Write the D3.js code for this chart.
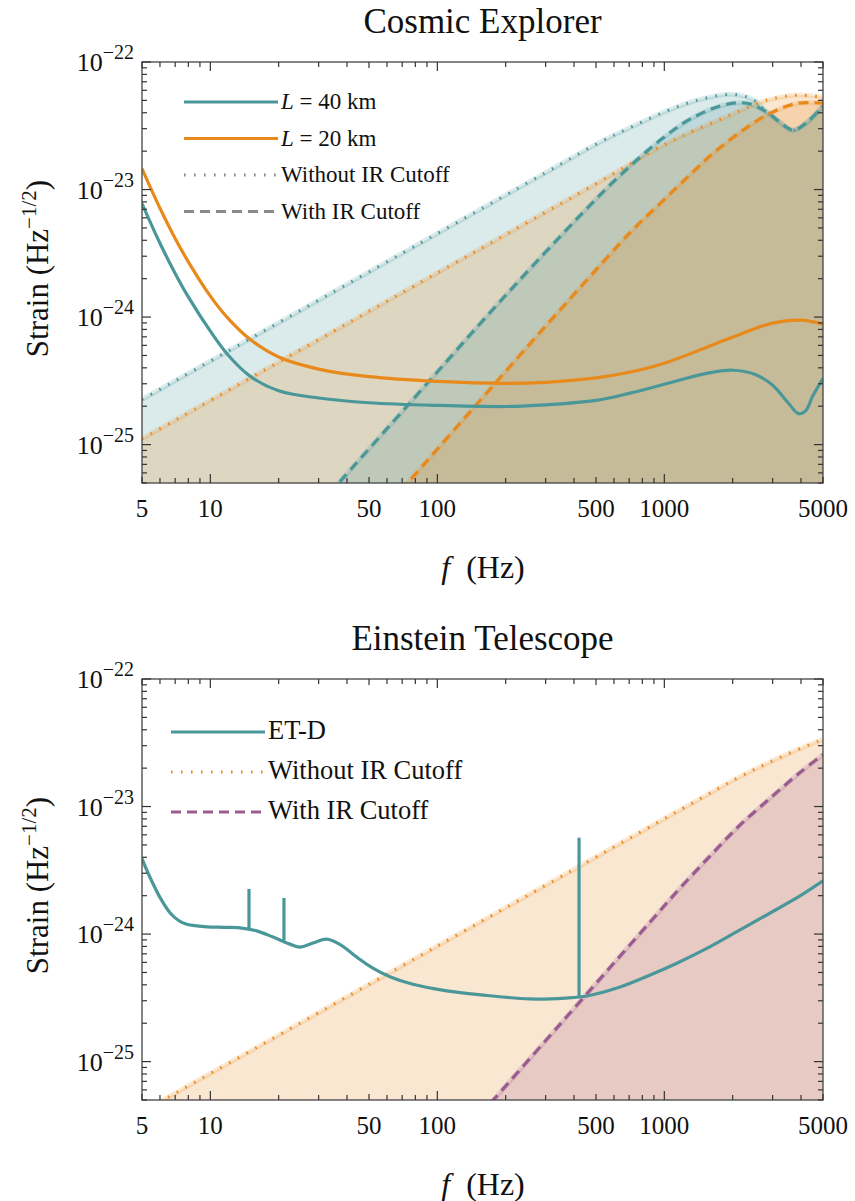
<!DOCTYPE html>
<html>
<head>
<meta charset="utf-8">
<script src="https://cdn.jsdelivr.net/npm/d3@7"></script>
<style>
  body { margin: 0; background: #fff; }
  text { font-family: "Liberation Serif", "DejaVu Serif", serif; fill: #111; }
</style>
</head>
<body>
<svg id="chart" width="855" height="1201"></svg>
<script>
// ---- Cosmic Explorer (top panel) ----
var ce40Freq  = [5, 6, 7, 8, 10, 12, 15, 20, 30, 50, 100, 200, 300, 500, 700, 1000, 1500, 2000, 2500, 3000, 3500, 3900, 4200, 4500, 5000];
var ce40Noise = [7.76e-24, 3.79e-24, 2.20e-24, 1.44e-24, 7.76e-25, 5.02e-25, 3.43e-25, 2.64e-25, 2.32e-25, 2.13e-25, 2.03e-25, 1.99e-25, 2.05e-25, 2.22e-25, 2.52e-25, 2.97e-25, 3.59e-25, 3.83e-25, 3.56e-25, 2.92e-25, 2.14e-25, 1.75e-25, 1.85e-25, 2.39e-25, 3.31e-25];

var ce20Freq  = [5, 6, 7, 8, 10, 12, 15, 20, 30, 50, 100, 200, 300, 500, 700, 1000, 1500, 2000, 3000, 4000, 5000];
var ce20Noise = [1.46e-23, 7.14e-24, 4.14e-24, 2.71e-24, 1.46e-24, 9.72e-25, 6.66e-25, 4.86e-25, 3.91e-25, 3.41e-25, 3.13e-25, 3.02e-25, 3.08e-25, 3.34e-25, 3.69e-25, 4.35e-25, 5.70e-25, 6.97e-25, 8.97e-25, 9.47e-25, 8.81e-25];

var ce40NoCutFreq = [5, 100, 300, 520, 727, 1027, 1436, 2007, 2458, 2833, 3233, 3688, 4251, 5000];
var ce40NoCut     = [2.26e-25, 4.52e-24, 1.356e-23, 2.35e-23, 3.13e-23, 4.14e-23, 5.08e-23, 5.57e-23, 5.08e-23, 4.04e-23, 3.37e-23, 2.92e-23, 3.37e-23, 4.51e-23];

var ce40CutFreq = [30, 72, 195, 425, 638, 957, 1298, 1813, 2313, 2833, 3233, 3688, 4251, 5000];
var ce40Cut     = [3.33e-26, 1.92e-25, 1.41e-24, 6.24e-24, 1.29e-23, 2.43e-23, 3.56e-23, 4.58e-23, 4.75e-23, 4.04e-23, 3.37e-23, 2.92e-23, 3.37e-23, 4.51e-23];

var ce20NoCutFreq = [5, 100, 500, 987, 1365, 1947, 2639, 3233, 3960, 5000];
var ce20NoCut     = [1.11e-25, 2.22e-24, 1.11e-23, 2.22e-23, 2.92e-23, 3.83e-23, 4.84e-23, 5.30e-23, 5.50e-23, 5.30e-23];

var ce20CutFreq = [50, 72.8, 143.6, 384, 727, 957, 1259, 1638, 2221, 2920, 3870, 5000];
var ce20Cut     = [2.28e-26, 4.84e-26, 1.92e-25, 1.39e-24, 4.84e-24, 7.76e-24, 1.24e-23, 1.92e-23, 2.92e-23, 3.96e-23, 4.75e-23, 4.75e-23];

// ---- Einstein Telescope (bottom panel) ----
var etFreq  = [5, 5.42, 6, 6.64, 7, 7.35, 7.81, 8.36, 9.67, 11.4, 13.5, 16, 18.9, 22.4, 24.8, 28.3, 32.5, 37.2, 44.2, 52, 61.8, 78, 110, 155, 255, 368, 457, 623, 841, 1135, 1531, 2135, 2980, 3960, 5000];
var etNoise = [3.90e-24, 2.79e-24, 1.94e-24, 1.47e-24, 1.34e-24, 1.26e-24, 1.20e-24, 1.17e-24, 1.14e-24, 1.13e-24, 1.12e-24, 1.06e-24, 9.47e-25, 8.34e-25, 7.90e-25, 8.50e-25, 9.13e-25, 8.31e-25, 6.59e-25, 5.41e-25, 4.63e-25, 4.04e-25, 3.59e-25, 3.34e-25, 3.10e-25, 3.15e-25, 3.27e-25, 3.79e-25, 4.67e-25, 5.91e-25, 7.69e-25, 1.07e-24, 1.49e-24, 1.99e-24, 2.61e-24];

// narrow resonance lines on the ET-D curve
var etSpikeFreq = [14.8, 21.1, 421];
var etSpikeBase = [1.11e-24, 8.9e-25, 3.22e-25];
var etSpikeTop  = [2.26e-24, 1.92e-24, 5.70e-24];

var etNoCutFreq = [5, 100, 1336, 2135, 3233, 5000];
var etNoCut     = [4.03e-26, 8.06e-25, 1.07e-23, 1.70e-23, 2.43e-23, 3.38e-23];

var etCutFreq = [139.3, 347, 864.6, 1172, 1589, 2135, 2920, 3960, 5000];
var etCut     = [3.10e-26, 1.96e-25, 1.24e-24, 2.29e-24, 4.09e-24, 7.05e-24, 1.16e-23, 1.85e-23, 2.55e-23];

var xTickLabels = [5, 10, 50, 100, 500, 1000, 5000];
var yTickExps = [-22, -23, -24, -25];

var teal = "#4a979a", orange = "#e8891b", purple = "#9a5b90", grey = "#8a8a8a";

var svg = d3.select("#chart");
var x = d3.scaleLog().domain([5, 5000]).range([142, 823]);

function drawPanel(p) {
	var y = d3.scaleLog().domain([5e-26, 1e-22]).range([p.bottom, p.top]);
	var g = svg.append("g");

	g.append("clipPath").attr("id", p.id)
		.append("rect")
		.attr("x", 142).attr("y", p.top)
		.attr("width", 823 - 142).attr("height", p.bottom - p.top);

	var plot = g.append("g").attr("clip-path", "url(#" + p.id + ")");

	var line = d3.line()
		.x(d => x(d[0]))
		.y(d => y(d[1]))
		.curve(d3.curveCatmullRom.alpha(0.5));

	var area = d3.area()
		.x(d => x(d[0]))
		.y0(p.bottom + 5)
		.y1(d => y(d[1]))
		.curve(d3.curveCatmullRom.alpha(0.5));

	p.fills.forEach(function(s) {
		plot.append("path")
			.datum(d3.zip(s.f, s.h))
			.attr("d", area)
			.attr("fill", s.color)
			.attr("fill-opacity", 0.2);
	});

	// soft band behind the cutoff curves
	p.fills.forEach(function(s) {
		plot.append("path")
			.datum(d3.zip(s.f, s.h))
			.attr("d", line)
			.attr("fill", "none")
			.attr("stroke", s.color)
			.attr("stroke-opacity", 0.18)
			.attr("stroke-width", 5);
	});

	p.fills.forEach(function(s) {
		plot.append("path")
			.datum(d3.zip(s.f, s.h))
			.attr("d", line)
			.attr("fill", "none")
			.attr("stroke", s.color)
			.attr("stroke-width", s.dash === "dot" ? 3 : 3.2)
			.attr("stroke-dasharray", s.dash === "dot" ? "1.6,8.4" : "10,6");
	});

	p.lines.forEach(function(s) {
		plot.append("path")
			.datum(d3.zip(s.f, s.h))
			.attr("d", line)
			.attr("fill", "none")
			.attr("stroke", s.color)
			.attr("stroke-width", 3.2);
	});

	if (p.spikes) {
		p.spikes.f.forEach(function(f, i) {
			plot.append("path")
				.datum([[f, p.spikes.base[i]], [f, p.spikes.top[i]]])
				.attr("d", d3.line().x(d => x(d[0])).y(d => y(d[1])))
				.attr("stroke", p.spikes.color)
				.attr("stroke-width", 3.2);
		});
	}

	// frame
	g.append("rect")
		.attr("x", 142).attr("y", p.top)
		.attr("width", 823 - 142).attr("height", p.bottom - p.top)
		.attr("fill", "none")
		.attr("stroke", "#444")
		.attr("stroke-width", 1.3);

	// x ticks (bottom and top)
	var xMinor = [];
	[1, 10, 100, 1000].forEach(function(dec) {
		for (var k = 1; k <= 9; k++) {
			var v = k * dec;
			if (v >= 5 && v <= 5000) xMinor.push(v);
		}
	});
	xMinor.forEach(function(v) {
		var len = [10, 100, 1000].indexOf(v) >= 0 ? 9 : (xTickLabels.indexOf(v) >= 0 ? 6 : 5);
		g.append("line").attr("x1", x(v)).attr("x2", x(v))
			.attr("y1", p.bottom).attr("y2", p.bottom - len)
			.attr("stroke", "#333").attr("stroke-width", 1.2);
		g.append("line").attr("x1", x(v)).attr("x2", x(v))
			.attr("y1", p.top).attr("y2", p.top + len)
			.attr("stroke", "#333").attr("stroke-width", 1.2);
	});

	xTickLabels.forEach(function(v) {
		g.append("text")
			.attr("x", x(v)).attr("y", p.bottom + 34)
			.attr("text-anchor", "middle")
			.style("font-size", "25px")
			.text(v);
	});

	// y ticks (left and right)
	yTickExps.concat([-26]).forEach(function(e) {
		for (var k = 1; k <= 9; k++) {
			var v = k * Math.pow(10, e);
			if (v < 5e-26 * 0.999 || v > 1e-22 * 1.001) continue;
			var len = k === 1 ? 9 : 5;
			g.append("line").attr("x1", 142).attr("x2", 142 + len)
				.attr("y1", y(v)).attr("y2", y(v))
				.attr("stroke", "#333").attr("stroke-width", 1.2);
			g.append("line").attr("x1", 823).attr("x2", 823 - len)
				.attr("y1", y(v)).attr("y2", y(v))
				.attr("stroke", "#333").attr("stroke-width", 1.2);
		}
	});

	yTickExps.forEach(function(e) {
		var t = g.append("text")
			.attr("x", 134).attr("y", y(Math.pow(10, e)) + 9)
			.attr("text-anchor", "end")
			.style("font-size", "26px");
		t.append("tspan").text("10");
		t.append("tspan").attr("dy", -12).style("font-size", "20px").text("\u2212" + (-e));
	});

	// titles
	g.append("text")
		.attr("x", 482.5).attr("y", p.top - 29)
		.attr("text-anchor", "middle")
		.style("font-size", "35px")
		.text(p.title);

	var xl = g.append("text")
		.attr("x", 483).attr("y", p.bottom + 95)
		.attr("text-anchor", "middle")
		.style("font-size", "32px");
	xl.append("tspan").style("font-style", "italic").text("f");
	xl.append("tspan").text("\u2002(Hz)");

	var yl = g.append("text")
		.attr("transform", "translate(48," + ((p.top + p.bottom) / 2 - 4) + ") rotate(-90)")
		.attr("text-anchor", "middle")
		.style("font-size", "31px");
	yl.append("tspan").text("Strain (Hz");
	yl.append("tspan").attr("dy", -12).style("font-size", "21px").text("\u22121/2");
	yl.append("tspan").attr("dy", 12).text(")");

	// legend
	p.legend.forEach(function(item, i) {
		var ly = p.legendY + i * p.legendStep;
		g.append("line")
			.attr("x1", p.legendX).attr("x2", p.legendX + 94)
			.attr("y1", ly).attr("y2", ly)
			.attr("stroke", item.color)
			.attr("stroke-width", 3.2)
			.attr("stroke-dasharray", item.dash === "dot" ? "1.6,8.4" : item.dash === "dash" ? "10,6" : null);
		var t = g.append("text")
			.attr("x", p.legendX + 97).attr("y", ly + 7)
			.style("font-size", p.legendFont + "px");
		if (item.italic) {
			t.append("tspan").style("font-style", "italic").text(item.italic);
		}
		t.append("tspan").text(item.label);
	});
}

drawPanel({
	id: "clipCE", title: "Cosmic Explorer", top: 62, bottom: 483,
	fills: [
		{f: ce40NoCutFreq, h: ce40NoCut, color: teal, dash: "dot"},
		{f: ce20NoCutFreq, h: ce20NoCut, color: orange, dash: "dot"},
		{f: ce40CutFreq, h: ce40Cut, color: teal, dash: "dash"},
		{f: ce20CutFreq, h: ce20Cut, color: orange, dash: "dash"}
	],
	lines: [
		{f: ce20Freq, h: ce20Noise, color: orange},
		{f: ce40Freq, h: ce40Noise, color: teal}
	],
	legendX: 184, legendY: 102, legendStep: 36.5, legendFont: 23,
	legend: [
		{color: teal, italic: "L", label: " = 40 km"},
		{color: orange, italic: "L", label: " = 20 km"},
		{color: grey, dash: "dot", label: "Without IR Cutoff"},
		{color: grey, dash: "dash", label: "With IR Cutoff"}
	]
});

drawPanel({
	id: "clipET", title: "Einstein Telescope", top: 679, bottom: 1100,
	fills: [
		{f: etNoCutFreq, h: etNoCut, color: orange, dash: "dot"},
		{f: etCutFreq, h: etCut, color: purple, dash: "dash"}
	],
	lines: [
		{f: etFreq, h: etNoise, color: teal}
	],
	spikes: {f: etSpikeFreq, base: etSpikeBase, top: etSpikeTop, color: teal},
	legendX: 171, legendY: 732, legendStep: 40, legendFont: 26.5,
	legend: [
		{color: teal, label: "ET-D"},
		{color: orange, dash: "dot", label: "Without IR Cutoff"},
		{color: purple, dash: "dash", label: "With IR Cutoff"}
	]
});
</script>
</body>
</html>
